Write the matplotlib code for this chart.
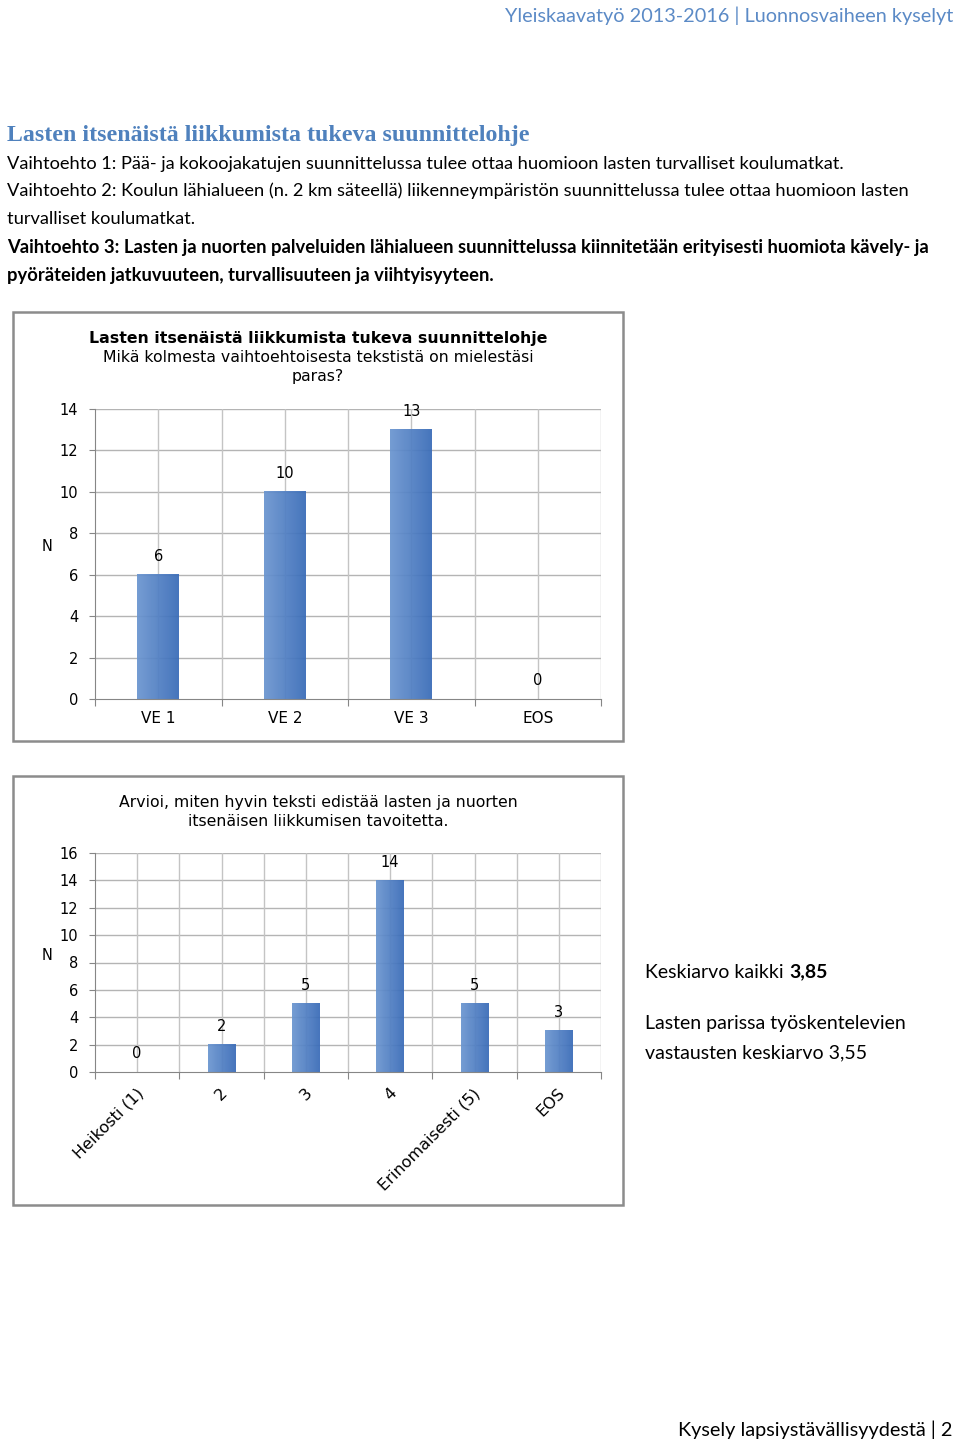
import matplotlib.pyplot as plt
import numpy as np
from matplotlib.patches import Rectangle
from matplotlib.colors import LinearSegmentedColormap

W, H = 960, 1443

# chart 1 data
cats1 = ['VE 1', 'VE 2', 'VE 3', 'EOS']
vals1 = [6, 10, 13, 0]
yticks1 = [0, 2, 4, 6, 8, 10, 12, 14]

# chart 2 data
cats2 = ['Heikosti (1)', '2', '3', '4', 'Erinomaisesti (5)', 'EOS']
vals2 = [0, 2, 5, 14, 5, 3]
yticks2 = [0, 2, 4, 6, 8, 10, 12, 14, 16]

body_lines = [
    'Vaihtoehto 1: Pää- ja kokoojakatujen suunnittelussa tulee ottaa huomioon lasten turvalliset koulumatkat.',
    'Vaihtoehto 2: Koulun lähialueen (n. 2 km säteellä) liikenneympäristön suunnittelussa tulee ottaa huomioon lasten',
    'turvalliset koulumatkat.',
]
bold_lines = [
    'Vaihtoehto 3: Lasten ja nuorten palveluiden lähialueen suunnittelussa kiinnitetään erityisesti huomiota kävely- ja',
    'pyöräteiden jatkuvuuteen, turvallisuuteen ja viihtyisyyteen.',
]

blue = '#4f81bd'
grad = LinearSegmentedColormap.from_list('g', ['#6c96d0', '#3a6cb8'])
CF = 'DejaVu Sans'


def fx(px):
    return px / W


def fy(py):
    return 1 - py / H


def axes_rect(x0, x1, ytop, ybot):
    return [fx(x0), fy(ybot), fx(x1) - fx(x0), (ybot - ytop) / H]


def draw_bars(ax, vals, width):
    x = np.arange(len(vals))
    bars = ax.bar(x, vals, width, color='#5585c5', alpha=0.0, zorder=2)
    g = np.linspace(0, 1, 64).reshape(1, -1)
    for b in bars:
        if b.get_height() > 0:
            ax.imshow(g, cmap=grad, aspect='auto', zorder=2.5, alpha=0.94,
                      extent=[b.get_x(), b.get_x() + b.get_width(), 0, b.get_height()])
    for xi, v in zip(x, vals):
        ax.annotate(str(v), (xi, v), xytext=(0, 13), textcoords='offset points',
                    ha='center', va='center', fontsize=10.5, family=CF)


def style_axes(ax, cats, vals, yticks):
    n = len(cats)
    ax.set_xlim(-0.5, n - 0.5)
    ax.set_ylim(0, yticks[-1])
    ax.set_yticks(yticks)
    for y in yticks[1:]:
        ax.axhline(y, color='#b4b4b4', lw=1, zorder=1)
    for i in range(n):
        ax.axvline(i, color='#c4c4c4', lw=1, zorder=1)
        ax.axvline(i + 0.5, color='#c4c4c4', lw=1, zorder=1)
    ax.set_xticks(np.arange(n + 1) - 0.5)
    ax.set_xticklabels([])
    ax.tick_params(axis='x', direction='out', length=5, color='#868686')
    ax.tick_params(axis='y', direction='out', length=4, color='#868686',
                   labelsize=10.5, pad=8)
    for lbl in ax.get_yticklabels():
        lbl.set_family(CF)
    for s in ['top', 'right']:
        ax.spines[s].set_visible(False)
    for s in ['left', 'bottom']:
        ax.spines[s].set_color('#868686')
    ax.set_ylabel('N', rotation=0, fontsize=10.5, family=CF)
    ax.yaxis.set_label_coords(-0.095, 0.5)


fig = plt.figure(figsize=(W / 100, H / 100), dpi=100)

# page header / footer
fig.text(fx(953), fy(16), 'Yleiskaavatyö 2013-2016 | Luonnosvaiheen kyselyt', ha='right',
         va='center', color='#5b8ac6', fontsize=14.3, family='Lato')
fig.text(fx(953), fy(1430), 'Kysely lapsiystävällisyydestä | 2', ha='right', va='center',
         fontsize=14.3, family='Lato')

fig.text(fx(7), fy(136), 'Lasten itsenäistä liikkumista tukeva suunnittelohje', ha='left',
         va='center', color=blue, fontsize=17.2, fontweight='bold', family='Liberation Serif')
ys = [164, 191, 219, 247, 275]
for i, line in enumerate(body_lines):
    fig.text(fx(7), fy(ys[i]), line, ha='left', va='center', fontsize=13.15, family='Lato')
for j, line in enumerate(bold_lines):
    fig.text(fx(7), fy(ys[3 + j]), line, ha='left', va='center', fontsize=13.25,
             fontweight='bold', family='Lato')

# chart frames
for top, bot in [(312, 741), (776, 1205)]:
    fig.patches.append(Rectangle((fx(13), fy(bot)), fx(623) - fx(13), (bot - top) / H,
                                 transform=fig.transFigure, fill=False,
                                 edgecolor='#8c8c8c', lw=1.8))

# chart 1
fig.text(fx(318), fy(338), 'Lasten itsenäistä liikkumista tukeva suunnittelohje', ha='center',
         va='center', fontsize=11.3, fontweight='bold', family=CF)
fig.text(fx(318), fy(357), 'Mikä kolmesta vaihtoehtoisesta tekstistä on mielestäsi',
         ha='center', va='center', fontsize=11.3, family=CF)
fig.text(fx(318), fy(376), 'paras?', ha='center', va='center', fontsize=11.3, family=CF)
ax1 = fig.add_axes(axes_rect(95, 601, 409, 699))
style_axes(ax1, cats1, vals1, yticks1)
draw_bars(ax1, vals1, 0.33)
for i, c in enumerate(cats1):
    ax1.text(i, -0.6, c, ha='center', va='top', fontsize=11, family=CF)

# chart 2
fig.text(fx(318), fy(802), 'Arvioi, miten hyvin teksti edistää lasten ja nuorten',
         ha='center', va='center', fontsize=11.35, family=CF)
fig.text(fx(318), fy(821), 'itsenäisen liikkumisen tavoitetta.',
         ha='center', va='center', fontsize=11.35, family=CF)
ax2 = fig.add_axes(axes_rect(95, 601, 853, 1072))
style_axes(ax2, cats2, vals2, yticks2)
draw_bars(ax2, vals2, 0.33)
for i, c in enumerate(cats2):
    ax2.text(i - 0.02, -1.0, c, ha='right', va='top', rotation=45, rotation_mode='anchor',
             fontsize=11.6, family=CF)

# side notes
t = fig.text(fx(645), fy(972), 'Keskiarvo kaikki', ha='left', va='center', fontsize=14,
             family='Lato')
fig.canvas.draw()
bb = t.get_window_extent()
fig.text(fx(bb.x1 + 6), fy(972), '3,85', ha='left', va='center', fontsize=14, family='Lato',
         fontweight='bold')
fig.text(fx(645), fy(1023), 'Lasten parissa työskentelevien', ha='left', va='center',
         fontsize=14, family='Lato')
fig.text(fx(645), fy(1053), 'vastausten keskiarvo 3,55', ha='left', va='center',
         fontsize=14, family='Lato')

fig.savefig('out.png', dpi=100)
